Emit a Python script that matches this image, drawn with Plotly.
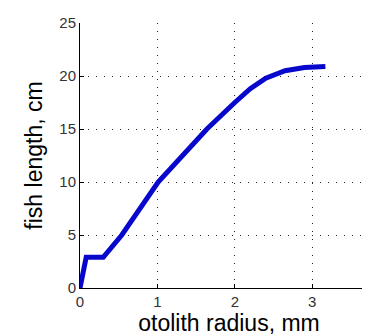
import plotly.graph_objects as go

radius_mm = [0, 0.08, 0.30, 0.54, 1.01, 1.28, 1.64, 2.00, 2.20, 2.40, 2.56, 2.65, 2.90, 3.17]
length_cm = [0, 2.9, 2.9, 5.0, 10.0, 12.1, 15.0, 17.5, 18.8, 19.8, 20.3, 20.5, 20.8, 20.9]
x_ticks = [0, 1, 2, 3]
y_ticks = [0, 5, 10, 15, 20, 25]

fig = go.Figure(go.Scatter(x=radius_mm, y=length_cm, mode="lines",
                           line=dict(color="#0808CC", width=5),
                           showlegend=False))

axis_common = dict(showline=True, linecolor="black", linewidth=1, ticks="inside",
                   ticklen=4, tickcolor="black", showgrid=True, gridcolor="#222222",
                   griddash="1px,7px", gridwidth=1, zeroline=False, mirror=False,
                   tickfont=dict(family="Liberation Sans, Arial", size=15, color="#333333"))

fig.update_xaxes(range=[0, 3.85], tickvals=x_ticks,
                 title=dict(text="otolith radius, mm", standoff=2,
                            font=dict(family="Liberation Sans, Arial", size=23, color="black")),
                 **axis_common)
fig.update_yaxes(range=[0, 25], tickvals=y_ticks,
                 title=dict(text="fish length, cm", standoff=10,
                            font=dict(family="Liberation Sans, Arial", size=23, color="black")),
                 **axis_common)

fig.update_layout(width=370, height=335, margin=dict(l=72, r=0, t=15, b=55),
                  plot_bgcolor="white", paper_bgcolor="white")

fig.write_html("out.html")
